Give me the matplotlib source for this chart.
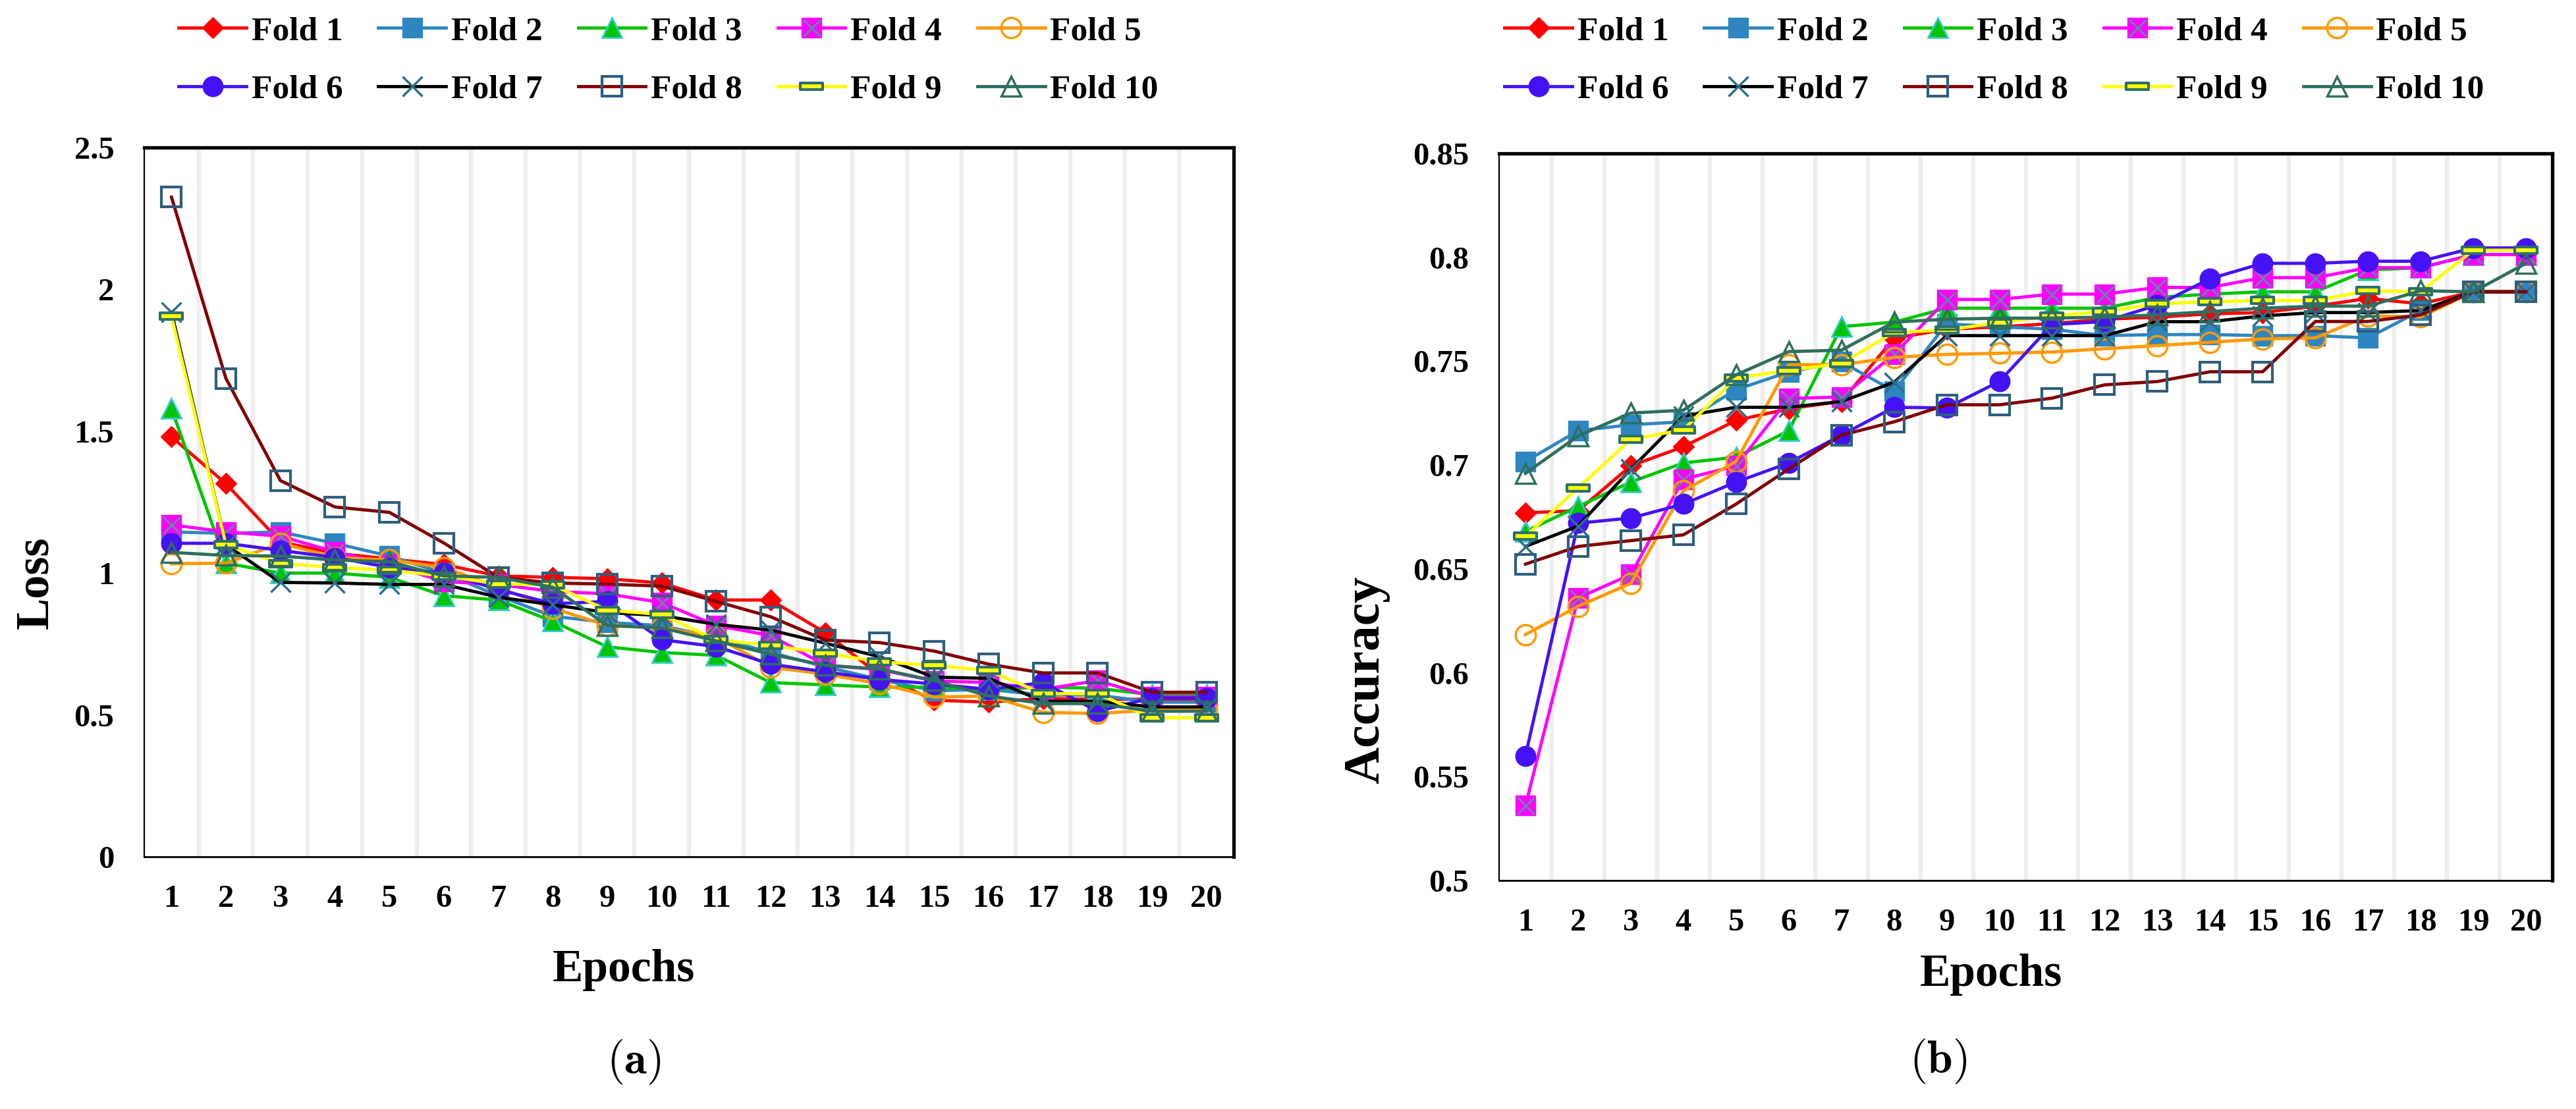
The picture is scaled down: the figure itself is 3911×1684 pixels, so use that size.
import numpy as np
import matplotlib
matplotlib.use("Agg")
import matplotlib.pyplot as plt
from matplotlib.path import Path
from matplotlib.legend_handler import HandlerTuple

plt.rcParams["font.family"] = ["Liberation Serif", "DejaVu Serif"]
plt.rcParams["font.weight"] = "bold"
plt.rcParams["mathtext.fontset"] = "cm"

# --- podatki ------------------------------------------------------------------

EPOCHS = list(range(1, 21))
FOLDS = ["Fold %d" % i for i in range(1, 11)]

loss_f1 = [1.48, 1.315, 1.11, 1.07, 1.05, 1.03, 0.99, 0.985, 0.98, 0.965, 0.905, 0.905, 0.79, 0.64, 0.552, 0.545, 0.558, 0.555, 0.555, 0.555]
loss_f2 = [1.145, 1.14, 1.145, 1.105, 1.06, 1.0, 0.92, 0.848, 0.826, 0.815, 0.772, 0.72, 0.67, 0.625, 0.585, 0.59, 0.57, 0.57, 0.545, 0.545]
loss_f3 = [1.58, 1.035, 1.0, 1.0, 0.985, 0.92, 0.905, 0.83, 0.74, 0.72, 0.71, 0.614, 0.606, 0.598, 0.598, 0.59, 0.598, 0.594, 0.571, 0.571]
loss_f4 = [1.17, 1.145, 1.13, 1.075, 1.03, 0.97, 0.96, 0.935, 0.927, 0.896, 0.815, 0.78, 0.675, 0.66, 0.62, 0.614, 0.59, 0.621, 0.564, 0.564]
loss_f5 = [1.033, 1.035, 1.105, 1.055, 1.046, 1.02, 0.95, 0.876, 0.815, 0.807, 0.775, 0.668, 0.644, 0.61, 0.563, 0.567, 0.509, 0.505, 0.517, 0.517]
loss_f6 = [1.105, 1.105, 1.08, 1.055, 1.02, 1.0, 0.942, 0.892, 0.9, 0.765, 0.741, 0.679, 0.652, 0.625, 0.609, 0.59, 0.614, 0.513, 0.56, 0.56]
loss_f7 = [1.92, 1.1, 0.967, 0.965, 0.96, 0.96, 0.915, 0.888, 0.861, 0.85, 0.819, 0.799, 0.753, 0.705, 0.633, 0.629, 0.548, 0.548, 0.528, 0.528]
loss_f8 = [2.325, 1.686, 1.326, 1.233, 1.214, 1.106, 0.985, 0.965, 0.961, 0.954, 0.9, 0.846, 0.764, 0.755, 0.725, 0.679, 0.648, 0.648, 0.58, 0.58]
loss_f9 = [1.905, 1.1, 1.034, 1.02, 1.01, 0.99, 0.962, 0.958, 0.869, 0.854, 0.765, 0.745, 0.718, 0.687, 0.675, 0.656, 0.575, 0.575, 0.49, 0.49]
loss_f10 = [1.073, 1.062, 1.06, 1.046, 1.04, 0.99, 0.985, 0.95, 0.815, 0.807, 0.761, 0.714, 0.675, 0.662, 0.621, 0.567, 0.54, 0.54, 0.513, 0.513]

acc_f1 = [0.677, 0.678, 0.6996, 0.7088, 0.7215, 0.7271, 0.7306, 0.761, 0.7654, 0.7665, 0.7681, 0.7702, 0.7712, 0.7728, 0.7734, 0.7765, 0.7802, 0.7776, 0.7834, 0.7834]
acc_f2 = [0.7017, 0.7165, 0.7194, 0.7208, 0.7363, 0.7448, 0.7497, 0.7356, 0.768, 0.7665, 0.7654, 0.7623, 0.7628, 0.7628, 0.7623, 0.7623, 0.7612, 0.7744, 0.7834, 0.7834]
acc_f3 = [0.668, 0.68, 0.6918, 0.701, 0.7038, 0.7165, 0.7666, 0.7688, 0.7755, 0.7755, 0.7755, 0.7755, 0.7807, 0.7823, 0.7834, 0.7834, 0.7939, 0.795, 0.8013, 0.8013]
acc_f4 = [0.536, 0.636, 0.6473, 0.6932, 0.6996, 0.732, 0.7328, 0.7532, 0.7797, 0.7797, 0.7823, 0.7823, 0.7855, 0.7855, 0.7902, 0.7902, 0.795, 0.795, 0.8013, 0.8013]
acc_f5 = [0.6184, 0.632, 0.643, 0.6876, 0.7017, 0.7483, 0.7483, 0.7518, 0.7533, 0.7538, 0.7544, 0.756, 0.7575, 0.7591, 0.7607, 0.7612, 0.7718, 0.7713, 0.7834, 0.7834]
acc_f6 = [0.56, 0.672, 0.6745, 0.6812, 0.6918, 0.701, 0.7144, 0.7278, 0.7275, 0.7402, 0.7676, 0.7691, 0.777, 0.7897, 0.7971, 0.7971, 0.7981, 0.7981, 0.8045, 0.8045]
acc_f7 = [0.6608, 0.6706, 0.698, 0.7236, 0.7278, 0.7278, 0.7306, 0.7398, 0.7623, 0.7623, 0.7623, 0.7623, 0.769, 0.769, 0.7718, 0.7734, 0.7734, 0.7744, 0.7834, 0.7834]
acc_f8 = [0.6523, 0.6608, 0.6636, 0.6664, 0.6812, 0.6981, 0.7144, 0.7208, 0.729, 0.729, 0.7322, 0.7386, 0.7402, 0.7449, 0.7449, 0.7691, 0.7691, 0.7723, 0.7834, 0.7834]
acc_f9 = [0.6657, 0.689, 0.7123, 0.717, 0.742, 0.7455, 0.749, 0.7638, 0.765, 0.7686, 0.7718, 0.7739, 0.7776, 0.7786, 0.7792, 0.7792, 0.7839, 0.7834, 0.8034, 0.8034]
acc_f10 = [0.696, 0.714, 0.725, 0.7264, 0.7434, 0.7546, 0.7553, 0.7688, 0.7702, 0.7707, 0.7707, 0.7712, 0.7723, 0.7739, 0.7755, 0.7765, 0.7765, 0.7839, 0.7834, 0.7971]

LOSS = [loss_f1, loss_f2, loss_f3, loss_f4, loss_f5, loss_f6, loss_f7, loss_f8, loss_f9, loss_f10]
ACC = [acc_f1, acc_f2, acc_f3, acc_f4, acc_f5, acc_f6, acc_f7, acc_f8, acc_f9, acc_f10]

LOSS_TICKS = [0, 0.5, 1, 1.5, 2, 2.5]
ACC_TICKS = [0.5, 0.55, 0.6, 0.65, 0.7, 0.75, 0.8, 0.85]

# --- stili (Excel-ov izgled) --------------------------------------------------

DASH = Path([(-0.5, -0.16), (0.5, -0.16), (0.5, 0.16), (-0.5, 0.16), (-0.5, -0.16)],
            [Path.MOVETO, Path.LINETO, Path.LINETO, Path.LINETO, Path.CLOSEPOLY])

# (barva crte, marker, velikost, polnilo, rob, debelina roba)
STILI = [
    ("#FF0000", "D", 16, "#FF0000", "#FF0000", 1.0),
    ("#2E86C1", "s", 21, "#2E86C1", "#2E86C1", 1.0),
    ("#00C400", "^", 22, "#00C400", "#33CCCC", 2.0),
    ("#FF00FF", "s", 21, "#FF00FF", "#FF00FF", 1.0),
    ("#FF9900", "o", 22, "none", "#FF9900", 2.5),
    ("#4412F5", "o", 22, "#4412F5", "#4412F5", 1.0),
    ("#000000", "x", 21, "none", "#2E6E8A", 2.5),
    ("#800000", "s", 21, "none", "#2E5E7E", 3.0),
    ("#FFFF00", DASH, 24, "#FFFF00", "#2E6E6E", 3.0),
    ("#2F6F5F", "^", 22, "none", "#2F6F5F", 2.5),
]

W, H = 3911, 1684
DPI = 100


def izrisi(ax, podatki):
    rocaji = []
    for i, (vals, stil) in enumerate(zip(podatki, STILI)):
        barva, mk, ms, fc, ec, mew = stil
        ln, = ax.plot(EPOCHS, vals, color=barva, lw=3.5, marker=mk, ms=ms,
                      mfc=fc, mec=ec, mew=mew, clip_on=False, zorder=3 + i)
        if i == 3:
            # Fold 4: kvadrat s kriscem cez
            xx, = ax.plot(EPOCHS, vals, ls="none", marker="x", ms=18,
                          mec="#5A8FA0", mew=2.0, clip_on=False, zorder=3 + i)
            rocaji.append((ln, xx))
        else:
            rocaji.append(ln)

    ax.set_xlim(0.5, 20.5)
    ax.set_xticks(EPOCHS)
    ax.set_xticks(np.arange(1.5, 20.5, 1), minor=True)
    ax.grid(which="minor", axis="x", color="#EEEEEE", lw=4.5, zorder=0)
    ax.tick_params(which="both", length=0)
    ax.tick_params(axis="x", pad=30, labelsize=35)
    ax.tick_params(axis="y", pad=33, labelsize=35)
    for s in ("top", "right"):
        ax.spines[s].set_linewidth(3.8)
    ax.spines["left"].set_linewidth(1.6)
    ax.spines["bottom"].set_linewidth(2.0)
    ax.yaxis.set_major_formatter(plt.FuncFormatter(lambda v, p: "%g" % v))
    return rocaji


fig = plt.figure(figsize=(W / DPI, H / DPI), dpi=DPI)

ax1 = fig.add_axes([219 / W, 1 - 1301 / H, (1873 - 219) / W, (1301 - 224) / H])
ax2 = fig.add_axes([2276 / W, 1 - 1337 / H, (3875 - 2276) / W, (1337 - 233) / H])

h1 = izrisi(ax1, LOSS)
ax1.set_ylim(0, 2.5)
ax1.set_yticks(LOSS_TICKS)

h2 = izrisi(ax2, ACC)
ax2.set_ylim(0.5, 0.85)
ax2.set_yticks(ACC_TICKS)

# legenda po vrsticah (matplotlib polni po stolpcih)
red = [0, 5, 1, 6, 2, 7, 3, 8, 4, 9]
for ax, roc, cx in ((ax1, h1, 1015), (ax2, h2, 3028)):
    fig.legend([roc[k] for k in red], [FOLDS[k] for k in red], ncol=5,
               loc="center", bbox_to_anchor=(cx / W, 1 - 92 / H),
               frameon=False, fontsize=37, handlelength=2.0, handletextpad=0.15,
               columnspacing=1.05, labelspacing=0.8,
               handler_map={tuple: HandlerTuple(ndivide=1)})

fig.text(55 / W, 1 - 885 / H, "Loss", rotation=90, ha="center", va="center", fontsize=52)
fig.text(2075 / W, 1 - 1032 / H, "Accuracy", rotation=90, ha="center", va="center", fontsize=56)
fig.text(947 / W, 1 - 1473 / H, "Epochs", ha="center", va="center", fontsize=50)
fig.text(3023 / W, 1 - 1480 / H, "Epochs", ha="center", va="center", fontsize=50)
fig.text(962 / W, 1 - 1612 / H, r"$(\mathbf{a})$", ha="center", va="center", fontsize=50)
fig.text(2943 / W, 1 - 1611 / H, r"$(\mathbf{b})$", ha="center", va="center", fontsize=50)

fig.savefig("out.png", dpi=DPI)
